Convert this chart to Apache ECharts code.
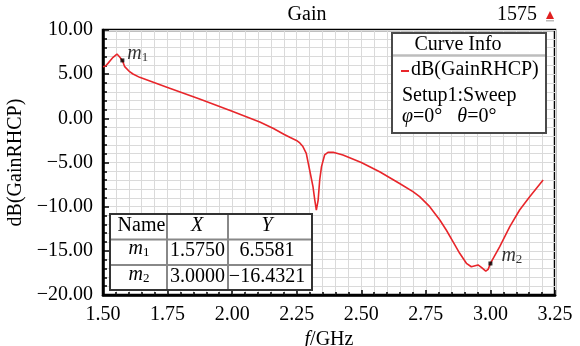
<!DOCTYPE html>
<html><head><meta charset="utf-8">
<script src="https://cdn.jsdelivr.net/npm/echarts@6/dist/echarts.min.js"></script>
<style>html,body{margin:0;padding:0;background:#fff}#c{width:580px;height:346px}</style>
</head><body><div id="c"></div>
<script>
// ---- data ----
const freqGHz = [1.500,1.510,1.520,1.530,1.539,1.554,1.563,1.575,1.584,1.603,1.616,1.642,1.750,1.874,2.000,2.107,2.160,2.200,2.223,2.249,2.262,2.274,2.287,2.300,2.313,2.320,2.326,2.333,2.339,2.346,2.358,2.371,2.391,2.429,2.500,2.571,2.650,2.700,2.726,2.765,2.804,2.829,2.855,2.881,2.907,2.926,2.952,2.965,2.982,2.991,3.000,3.036,3.075,3.113,3.152,3.204];
const gainDb  = [5.85,5.92,6.25,6.60,6.91,7.28,7.00,6.5581,5.85,5.28,5.02,4.64,3.50,2.19,0.80,-0.42,-1.15,-1.80,-2.15,-2.50,-2.79,-3.20,-3.96,-5.85,-7.74,-9.25,-10.38,-9.25,-6.98,-5.47,-4.15,-3.85,-3.85,-4.15,-5.00,-6.04,-7.40,-8.30,-8.87,-10.00,-11.51,-12.64,-13.96,-15.28,-16.41,-16.80,-16.60,-16.87,-17.30,-17.10,-16.4321,-14.53,-12.27,-10.38,-8.87,-6.98];
const markerNames = ['1','2'];
const markerFreq  = [1.575, 3.0];
const markerGain  = [6.5581, -16.4321];
const tableHeader = ['Name','X','Y'];
const legendLines = ['Curve Info','dB(GainRHCP)','Setup1:Sweep'];
const titleText = 'Gain';
const cornerText = '1575';

const FF = "'Liberation Serif','Times New Roman',serif";
const TXT = '#000';
const minus = s => s.replace('-', '\u2212');

const chart = echarts.init(document.getElementById('c'), null, {renderer:'canvas'});

const subRich = {
  i:{fontFamily:FF, fontStyle:'italic', fontSize:20, color:TXT, lineHeight:20},
  s:{fontFamily:FF, fontSize:13, color:TXT, lineHeight:10, verticalAlign:'bottom'}
};

function T(x, y, text, align, extra) {
  return Object.assign({type:'text', x:x, y:y, z:100,
    style:{text:text, fontFamily:FF, fontSize:20, fill:TXT, align:align||'center', verticalAlign:'middle'}}, extra||{});
}
function RT(x, y, text, align, rich) {
  return {type:'text', x:x, y:y, z:100,
    style:{text:text, fontFamily:FF, fontSize:20, fill:TXT, align:align||'center', verticalAlign:'middle', rich:rich}};
}
function L(x1,y1,x2,y2,color,w){
  return {type:'line', z:99, shape:{x1:x1,y1:y1,x2:x2,y2:y2}, style:{stroke:color, lineWidth:w}};
}

const graphic = [
  T(307, 15, titleText),
  T(517, 15, cornerText),
  {type:'polygon', z:100, shape:{points:[[546,19],[550,11],[554,19]]}, style:{fill:'#e02020'}},
  {type:'rect', z:100, shape:{x:546,y:20,width:8,height:1.5}, style:{fill:'#bbbbbb'}},
  // legend box
  {type:'rect', z:98, shape:{x:392,y:33,width:154,height:100}, style:{fill:'#fff', stroke:'#4a4a4a', lineWidth:2}},
  T(458, 45, legendLines[0]),
  L(393,55.5,545,55.5,'#bdbdbd',2.5),
  L(401,71,409,71,'#e8262b',2),
  T(411, 70, legendLines[1], 'left'),
  T(402, 96, legendLines[2], 'left'),
  RT(402, 117, '{i|φ}{n|=0°}{g| }{i|θ}{n|=0°}', 'left', {
    i:{fontFamily:FF, fontStyle:'italic', fontSize:20, color:TXT},
    n:{fontFamily:FF, fontSize:20, color:TXT},
    g:{fontFamily:FF, fontSize:20, width:15}
  }),
  // table
  {type:'rect', z:98, shape:{x:110,y:214,width:202,height:76}, style:{fill:'#fff', stroke:'#333', lineWidth:2}},
  L(111,239.5,311,239.5,'#888',2),
  L(111,265,311,265,'#888',2),
  L(167,215,167,289,'#888',2),
  L(228,215,228,289,'#888',2),
  T(141.5, 226, tableHeader[0]),
  RT(197, 226, '{i|' + tableHeader[1] + '}', 'center', {i:{fontFamily:FF, fontStyle:'italic', fontSize:20, color:TXT}}),
  RT(267, 226, '{i|' + tableHeader[2] + '}', 'center', {i:{fontFamily:FF, fontStyle:'italic', fontSize:20, color:TXT}})
];
markerNames.forEach((n, k) => {
  const yc = k === 0 ? 251 : 277;
  graphic.push(RT(139, yc - 2, '{i|m}{s|' + n + '}', 'center', subRich));
  graphic.push(T(197.5, yc, markerFreq[k].toFixed(4)));
  graphic.push(T(267, yc, minus(markerGain[k].toFixed(4))));
});

const labelOffsets = [[-1,-6.5],[5,-7.5]];

chart.setOption({
  animation:false,
  backgroundColor:'#fff',
  grid:{left:103, right:25, top:30, bottom:51, show:true, borderColor:'#000', borderWidth:2.5,
        containLabel:false, outerBoundsMode:'none'},
  xAxis:{
    type:'value', min:1.5, max:3.25, interval:0.25,
    axisLine:{show:true, onZero:false, lineStyle:{color:'#000', width:2.5}},
    axisTick:{show:true, inside:true, length:5, lineStyle:{color:'#000', width:1.5}},
    minorTick:{show:true, splitNumber:5, length:3, lineStyle:{color:'#000', width:1.5}},
    splitLine:{show:true, lineStyle:{color:'#dadada', width:1}},
    minorSplitLine:{show:true, lineStyle:{color:'#dadada', width:1}},
    axisLabel:{formatter:v=>v.toFixed(2), color:TXT, fontSize:20, fontFamily:FF, margin:10},
    name:'{i|f}{n|/GHz}', nameLocation:'middle', nameGap:30,
    nameTextStyle:{rich:{i:{fontFamily:FF, fontStyle:'italic', fontSize:20, color:TXT}, n:{fontFamily:FF, fontSize:20, color:TXT}}}
  },
  yAxis:{
    type:'value', min:-20, max:10, interval:5,
    axisLine:{show:true, onZero:false, lineStyle:{color:'#000', width:2.5}},
    axisTick:{show:true, inside:true, length:6, lineStyle:{color:'#000', width:1.5}},
    minorTick:{show:true, splitNumber:5, length:4, lineStyle:{color:'#000', width:1.5}},
    splitLine:{show:true, lineStyle:{color:'#dadada', width:1}},
    minorSplitLine:{show:true, lineStyle:{color:'#dadada', width:1}},
    axisLabel:{formatter:v=>minus(v.toFixed(2)), color:TXT, fontSize:20, fontFamily:FF, margin:10},
    name:'dB(GainRHCP)', nameLocation:'middle', nameGap:76,
    nameTextStyle:{fontFamily:FF, fontSize:20, color:TXT}
  },
  series:[
    {type:'line', data:freqGHz.map((f,i)=>[f, gainDb[i]]), symbol:'none', smooth:false,
     lineStyle:{color:'#e8262b', width:1.6}, z:3},
    {type:'scatter', symbol:'rect', symbolSize:4, itemStyle:{color:'#000'}, z:4,
     data:markerFreq.map((f,i)=>({value:[f, markerGain[i]], name:markerNames[i],
       label:{offset:labelOffsets[i]}})),
     label:{show:true, position:'right', distance:4, color:TXT, formatter:p=>'{i|m}{s|' + p.name + '}', rich:subRich}}
  ],
  graphic:graphic
});
</script></body></html>
